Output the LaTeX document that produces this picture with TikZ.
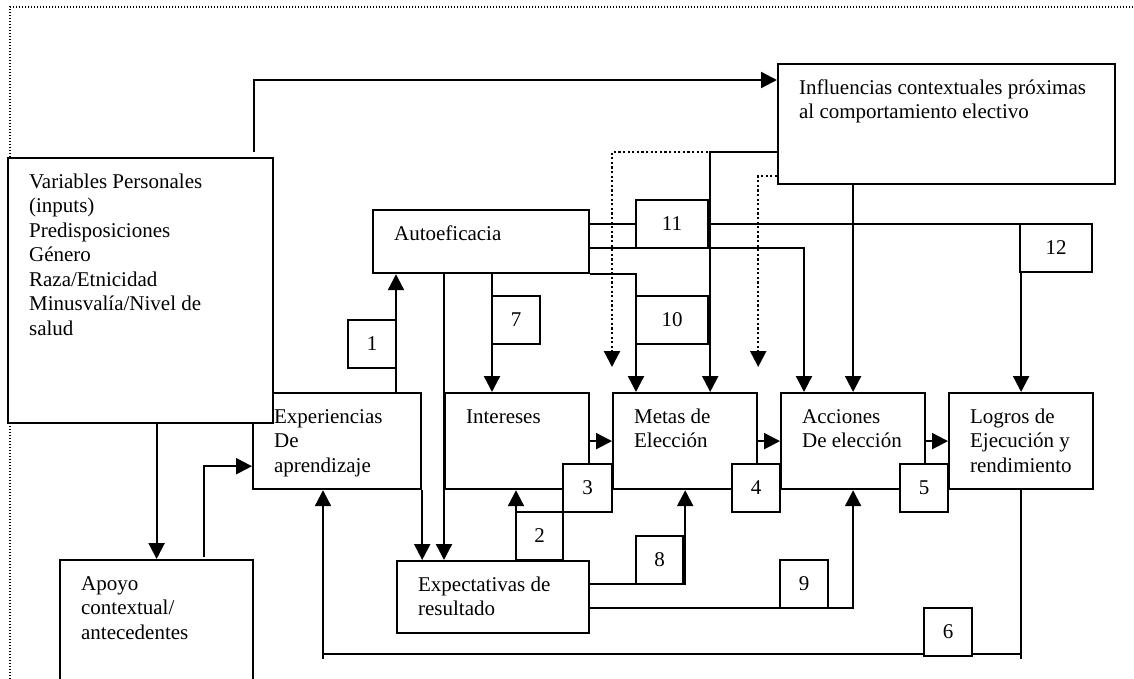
\documentclass[tikz,border=0pt]{standalone}
\usepackage{fontspec}
\setmainfont{Liberation Serif}
\usetikzlibrary{arrows.meta,calc}
\newcommand{\btxt}[3]{\parbox[c][#2][t]{#1}{\raggedright\leftskip=21pt\relax\vspace*{13pt}\strut#3\par}}
\tikzset{
  box/.style={draw, line width=2.2pt, fill=white, anchor=north west, inner sep=0pt},
  num/.style={draw, line width=2.2pt, fill=white, inner sep=0pt, minimum width=48pt, minimum height=48pt},
  conn/.style={line width=2.2pt},
  arr/.style={line width=2.2pt, -{Triangle[length=16pt,width=16pt]}},
  dotarr/.style={line width=2.2pt, dash pattern=on 2.2pt off 2.4pt, -{Triangle[length=16pt,width=16pt]}},
  frame/.style={line width=1.3pt, dash pattern=on 1.3pt off 1.7pt}
}
\begin{document}
\begin{tikzpicture}[x=1pt,y=-1pt,font=\fontsize{21pt}{24.5pt}\selectfont]
\useasboundingbox (0,0) rectangle (1134,679);
% outer dotted frame
\draw[frame] (10,700) -- (10,7) -- (1140,7);

% main boxes
\node[box] (infl) at (777,63) {\btxt{337pt}{120pt}{Influencias contextuales próximas\\al comportamiento electivo}};
\node[box] (auto) at (372,209) {\btxt{216pt}{63pt}{Autoeficacia}};
\node[box] (exp) at (252,392) {\btxt{168pt}{96pt}{Experiencias\\De\\aprendizaje}};
\node[box] (inte) at (444,392) {\btxt{144pt}{96pt}{Intereses}};
\node[box] (metas) at (612,392) {\btxt{144pt}{96pt}{Metas de\\Elección}};
\node[box] (acc) at (780,392) {\btxt{144pt}{96pt}{Acciones\\De elección}};
\node[box] (logros) at (948,392) {\btxt{144pt}{96pt}{Logros de\\Ejecución y\\rendimiento}};
\node[box] (expe) at (396,560) {\btxt{192pt}{72pt}{Expectativas de\\resultado}};
\node[box] (apoyo) at (59,559) {\btxt{193pt}{150pt}{Apoyo\\contextual/\\antecedentes}};
\node[box] (vp) at (7,157) {\btxt{265pt}{265pt}{Variables Personales\\(inputs)\\Predisposiciones\\Género\\Raza/Etnicidad\\Minusvalía/Nivel de\\salud}};

% positions of the small numbered boxes (drawn later, on top)
\coordinate (c1) at (372,344);
\coordinate (c1e) at (396,344);
\coordinate (c7) at (516,320);
\coordinate (c7w) at (492,320);
\coordinate (c11) at (672,224);
\coordinate (c10) at (672,320);
\coordinate (c12) at (1056,248);
\coordinate (c3) at (587.5,488);
\coordinate (c2) at (539.5,536);
\coordinate (c4) at (756,488);
\coordinate (c5) at (924,488);
\coordinate (c8) at (659.5,560);
\coordinate (c9) at (804,584);
\coordinate (c6) at (948,632);

% connectors
\draw[arr] ($(vp.north east)+(-20,-5)$) |- ($(infl.north west)+(0,17)$);
\draw[arr] (vp.south -| apoyo.north) -- (apoyo.north);
\draw[arr] ($(apoyo.north)+(47.5,-2)$) |- ($(exp.south west)+(0,-24)$);
\draw[arr] (c1e |- exp.north) -- (c1e |- auto.south);
\draw[arr] (exp.south east) -- (exp.south east |- expe.north);
\draw[arr] (inte.west |- auto.south) -- (inte.west |- expe.north);
\draw[arr] (c7w |- auto.south) -- (c7w |- inte.north);
\draw[arr] (auto.south east) -| ($(metas.north west)+(24,0)$);
\draw[arr] ($(auto.north east)+(0,39)$) -| ($(acc.north west)+(24,0)$);
\draw[arr] ($(auto.north east)+(0,15)$) -| (logros.north);
\draw[arr] ($(infl.north west)+(0,89)$) -| ($(metas.north east)+(-48,0)$);
\draw[dotarr] ($(infl.north west)+(-69,89)$) -| ($(metas.north west)+(0,-25)$);
\draw[dotarr] ($(infl.north west)+(0,113)$) -| ($(metas.north east)+(0,-25)$);
\draw[arr] (infl.south -| acc.north) -- (acc.north);
\draw[arr] (inte.east) -- (metas.west);
\draw[arr] (metas.east) -- (acc.west);
\draw[arr] (acc.east) -- (logros.west);
\draw[arr] ($(expe.north west)+(120,0)$) -- ($(inte.south west)+(72,0)$);
\draw[arr] ($(expe.north east)+(0,24)$) -| ($(metas.south east)+(-73,0)$);
\draw[arr] ($(expe.north east)+(0,48)$) -| (acc.south);
\draw[conn] (logros.south) -- ++(0,169);
\draw[arr] ($(logros.south)+(0,164)$) -| ($(exp.south west)+(71,0)$);
\draw[conn] ($(exp.south west)+(71,164)$) -- ++(0,5);

% numbered boxes
\node[num] (n1) at (c1) {1};
\node[num] (n7) at (c7) {7};
\node[num, minimum width=72pt] (n11) at (c11) {11};
\node[num, minimum width=72pt] (n10) at (c10) {10};
\node[num, minimum width=72pt] (n12) at (c12) {12};
\node[num, minimum width=49pt] (n3) at (c3) {3};
\node[num, minimum width=47pt] (n2) at (c2) {2};
\node[num] (n4) at (c4) {4};
\node[num] (n5) at (c5) {5};
\node[num, minimum width=47pt] (n8) at (c8) {8};
\node[num] (n9) at (c9) {9};
\node[num] (n6) at (c6) {6};
\end{tikzpicture}
\end{document}
